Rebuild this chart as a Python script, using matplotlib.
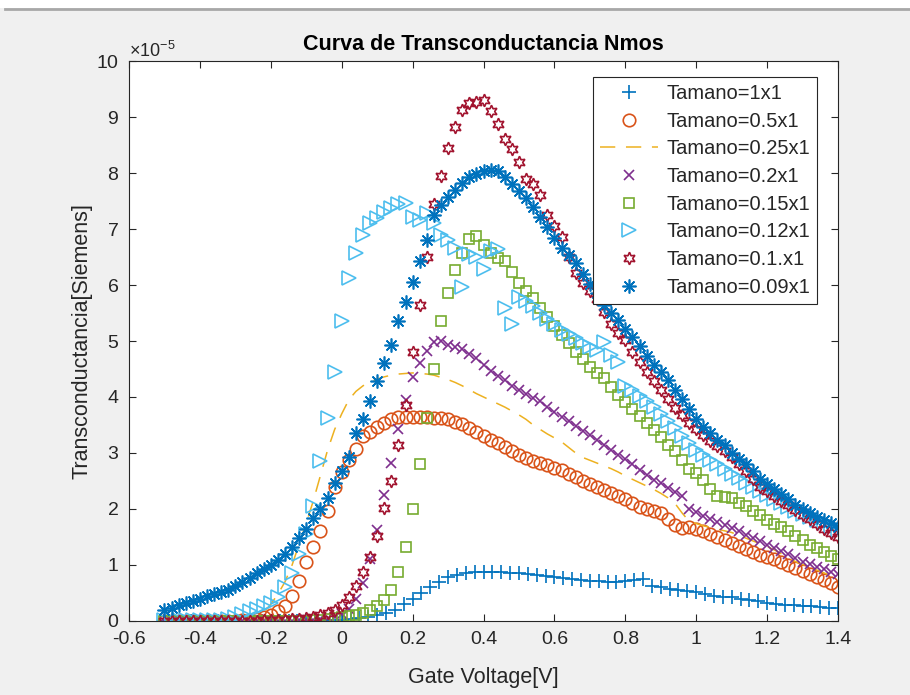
import numpy as np
import matplotlib
matplotlib.use('Agg')
import matplotlib.pyplot as plt
from matplotlib.ticker import ScalarFormatter, MultipleLocator
from matplotlib.lines import Line2D

plt.rcParams['font.family'] = ['Liberation Sans', 'DejaVu Sans']
plt.rcParams['mathtext.fontset'] = 'custom'
plt.rcParams['mathtext.rm'] = 'Liberation Sans'
plt.rcParams['mathtext.it'] = 'Liberation Sans:italic'

# gate voltage sweeps [V]
vg = np.round(np.arange(-0.5, 1.4001, 0.02), 3)        # 96 points
vg_1x1 = np.round(np.arange(-0.5, 1.4001, 0.025), 3)   # 77 points

# transconductance, in units of 1e-5 S
gm_1x1 = [0, 0, 0, 0, 0, 0, 0, 0,
          0, 0, 0, 0, 0, 0, 0, 0,
          0.01, 0.01, 0.01, 0.02, 0.02, 0.03, 0.05, 0.07,
          0.1, 0.14, 0.2, 0.3, 0.4, 0.5, 0.6, 0.7,
          0.78, 0.83, 0.86, 0.87, 0.88, 0.88, 0.87, 0.86,
          0.85, 0.84, 0.82, 0.8, 0.79, 0.77, 0.75, 0.73,
          0.72, 0.71, 0.7, 0.7, 0.71, 0.73, 0.75, 0.63,
          0.61, 0.58, 0.55, 0.53, 0.51, 0.48, 0.45, 0.43,
          0.42, 0.4, 0.37, 0.35, 0.33, 0.31, 0.29, 0.28,
          0.27, 0.26, 0.25, 0.24, 0.23]

gm_05x1 = [0, 0, 0, 0, 0, 0, 0, 0, 0, 0,
           0, 0.01, 0.02, 0.04, 0.07, 0.11, 0.17, 0.27, 0.45, 0.72,
           1.06, 1.32, 1.6, 1.96, 2.4, 2.66, 2.88, 3.08, 3.3, 3.38,
           3.46, 3.54, 3.6, 3.64, 3.65, 3.65, 3.65, 3.64, 3.63, 3.62,
           3.6, 3.56, 3.51, 3.45, 3.38, 3.3, 3.23, 3.17, 3.1, 3.04,
           2.97, 2.91, 2.86, 2.82, 2.78, 2.74, 2.69, 2.63, 2.57, 2.5,
           2.44, 2.39, 2.34, 2.29, 2.23, 2.17, 2.1, 2.04, 2.0, 1.96,
           1.92, 1.83, 1.72, 1.66, 1.68, 1.64, 1.6, 1.55, 1.5, 1.45,
           1.39, 1.34, 1.29, 1.24, 1.18, 1.14, 1.1, 1.05, 1.0, 0.94,
           0.89, 0.84, 0.79, 0.74, 0.68, 0.6]

gm_025x1 = [0, 0, 0, 0, 0, 0, 0, 0, 0, 0,
            0, 0.01, 0.03, 0.07, 0.15, 0.3, 0.48, 0.7, 1.0, 1.38,
            1.75, 2.15, 2.6, 3.05, 3.42, 3.7, 3.95, 4.1, 4.2, 4.27,
            4.32, 4.36, 4.39, 4.41, 4.42, 4.43, 4.42, 4.41, 4.39, 4.35,
            4.31, 4.26, 4.2, 4.13, 4.06, 4.0, 3.94, 3.88, 3.82, 3.75,
            3.68, 3.6, 3.5, 3.42, 3.34, 3.27, 3.2, 3.1, 3.0, 2.92,
            2.87, 2.82, 2.77, 2.72, 2.66, 2.59, 2.53, 2.47, 2.41, 2.35,
            2.28, 2.2, 2.1, 1.93, 1.78, 1.74, 1.7, 1.67, 1.64, 1.61,
            1.58, 1.53, 1.48, 1.43, 1.38, 1.33, 1.27, 1.2, 1.13, 1.06,
            1.01, 0.96, 0.91, 0.86, 0.81, 0.76]

gm_02x1 = [0, 0, 0, 0, 0, 0, 0, 0, 0, 0,
           0, 0, 0, 0, 0, 0, 0, 0, 0, 0.01,
           0.01, 0.02, 0.03, 0.05, 0.08, 0.12, 0.22, 0.4, 0.68, 1.1,
           1.62, 2.25, 2.82, 3.42, 3.95, 4.35, 4.6, 4.82, 4.98, 5.0,
           4.93, 4.9, 4.85, 4.77, 4.7, 4.58, 4.47, 4.38, 4.3, 4.2,
           4.13, 4.06, 3.98, 3.92, 3.83, 3.74, 3.65, 3.57, 3.48, 3.4,
           3.32, 3.23, 3.14, 3.06, 2.97, 2.89, 2.81, 2.7, 2.6, 2.52,
           2.46, 2.38, 2.3, 2.23, 2.0, 1.94, 1.87, 1.82, 1.77, 1.71,
           1.66, 1.6, 1.54, 1.48, 1.42, 1.36, 1.3, 1.25, 1.19, 1.12,
           1.06, 1.01, 0.96, 0.92, 0.87, 0.84]

gm_015x1 = [0, 0, 0, 0, 0, 0, 0, 0, 0, 0,
            0, 0, 0, 0, 0, 0, 0, 0, 0, 0,
            0, 0.01, 0.02, 0.03, 0.05, 0.07, 0.09, 0.11, 0.14, 0.19,
            0.27, 0.37, 0.55, 0.88, 1.32, 2.0, 2.8, 3.62, 4.5, 5.35,
            5.85, 6.27, 6.58, 6.82, 6.88, 6.72, 6.57, 6.49, 6.42, 6.24,
            6.04, 5.9, 5.77, 5.59, 5.42, 5.27, 5.11, 4.96, 4.8, 4.68,
            4.54, 4.43, 4.34, 4.18, 4.04, 3.91, 3.78, 3.66, 3.53, 3.41,
            3.28, 3.15, 3.03, 2.88, 2.72, 2.64, 2.52, 2.36, 2.24, 2.22,
            2.19, 2.11, 2.05, 1.96, 1.89, 1.8, 1.73, 1.67, 1.6, 1.52,
            1.44, 1.36, 1.3, 1.24, 1.16, 1.1]

gm_012x1 = [0.01, 0.01, 0.01, 0.01, 0.01, 0.01, 0.01, 0.01, 0.02, 0.04,
            0.07, 0.12, 0.18, 0.22, 0.26, 0.33, 0.42, 0.6, 0.85, 1.2,
            1.55, 2.05, 2.86, 3.63, 4.45, 5.36, 6.13, 6.57, 6.89, 7.1,
            7.2, 7.3, 7.38, 7.44, 7.46, 7.22, 7.16, 7.28, 7.1, 6.9,
            6.8, 6.66, 5.97, 6.55, 6.5, 6.28, 6.6, 6.65, 5.59, 5.3,
            5.79, 5.72, 5.62, 5.5, 5.4, 5.3, 5.2, 5.12, 5.05, 4.97,
            4.9, 4.84, 4.98, 4.75, 4.62, 4.2, 4.12, 4.02, 3.92, 3.82,
            3.7, 3.58, 3.44, 3.31, 3.18, 3.06, 2.97, 2.88, 2.8, 2.72,
            2.63, 2.55, 2.47, 2.39, 2.32, 2.25, 2.18, 2.1, 2.03, 1.97,
            1.91, 1.86, 1.81, 1.75, 1.68, 1.6]

gm_01x1 = [0, 0, 0, 0, 0, 0, 0, 0, 0, 0,
           0, 0, 0, 0, 0.01, 0.01, 0.01, 0.02, 0.03, 0.04,
           0.06, 0.08, 0.11, 0.15, 0.2, 0.28, 0.42, 0.62, 0.87, 1.15,
           1.52, 2.02, 2.5, 3.15, 3.85, 4.8, 5.65, 6.5, 7.45, 7.95,
           8.45, 8.82, 9.12, 9.25, 9.27, 9.3, 9.1, 8.88, 8.6, 8.42,
           8.2, 7.9, 7.8, 7.6, 7.25, 7.05, 6.85, 6.5, 6.22, 6.04,
           5.9, 5.75, 5.52, 5.3, 5.15, 5.02, 4.8, 4.62, 4.45, 4.29,
           4.12, 3.96, 3.81, 3.67, 3.53, 3.42, 3.32, 3.22, 3.12, 3.03,
           2.92, 2.8, 2.68, 2.53, 2.4, 2.32, 2.24, 2.15, 2.07, 1.98,
           1.9, 1.82, 1.73, 1.65, 1.57, 1.5]

gm_009x1 = [0.2, 0.24, 0.28, 0.32, 0.36, 0.4, 0.44, 0.48, 0.52, 0.56,
            0.62, 0.7, 0.77, 0.85, 0.92, 1.0, 1.09, 1.2, 1.32, 1.48,
            1.65, 1.84, 2.0, 2.2, 2.47, 2.68, 2.92, 3.35, 3.6, 3.93,
            4.28, 4.6, 4.92, 5.35, 5.7, 6.05, 6.42, 6.8, 7.25, 7.42,
            7.58, 7.7, 7.83, 7.92, 7.98, 8.03, 8.05, 8.03, 7.92, 7.8,
            7.67, 7.55, 7.4, 7.22, 7.03, 6.84, 6.66, 6.53, 6.4, 6.2,
            6.02, 5.85, 5.65, 5.5, 5.37, 5.22, 5.08, 4.91, 4.74, 4.58,
            4.44, 4.3, 4.13, 3.97, 3.78, 3.6, 3.46, 3.35, 3.23, 3.14,
            3.0, 2.9, 2.8, 2.68, 2.54, 2.45, 2.35, 2.26, 2.17, 2.08,
            2.0, 1.93, 1.86, 1.8, 1.75, 1.68]

labels = ['Tamano=1x1', 'Tamano=0.5x1', 'Tamano=0.25x1', 'Tamano=0.2x1',
          'Tamano=0.15x1', 'Tamano=0.12x1', 'Tamano=0.1.x1', 'Tamano=0.09x1']

scale = 1e-5
mew = 1.2

fig = plt.figure(figsize=(9.1, 6.95), dpi=100, facecolor='#f0f0f0')
ax = fig.add_axes([0.1418, 0.1065, 0.7791, 0.8057])

ax.plot(vg_1x1, np.array(gm_1x1) * scale, ls='none', marker='+', ms=10,
        mew=mew, color='#0072BD', label=labels[0])
ax.plot(vg, np.array(gm_05x1) * scale, ls='none', marker='o', ms=9,
        mew=mew, mfc='none', color='#D95319', label=labels[1])
ax.plot(vg, np.array(gm_025x1) * scale, ls='--', lw=1.1, dashes=(10, 7),
        color='#EDB120', label=labels[2])
ax.plot(vg, np.array(gm_02x1) * scale, ls='none', marker='x', ms=7,
        mew=mew, color='#7E2F8E', label=labels[3])
ax.plot(vg, np.array(gm_015x1) * scale, ls='none', marker='s', ms=7.5,
        mew=mew, mfc='none', color='#77AC30', label=labels[4])
ax.plot(vg, np.array(gm_012x1) * scale, ls='none', marker='>', ms=9.5,
        mew=mew, mfc='none', color='#4DBEEE', label=labels[5])
ax.plot(vg, np.array(gm_01x1) * scale, ls='none', marker=(6, 1, 0), ms=9,
        mew=mew, mfc='none', color='#A2142F', label=labels[6])
ax.plot(vg, np.array(gm_009x1) * scale, ls='none', marker=(8, 2, 0), ms=10,
        mew=mew, color='#0072BD', label=labels[7])

ax.set_xlim(-0.6, 1.4)
ax.set_ylim(0, 10e-5)
ax.xaxis.set_major_locator(MultipleLocator(0.2))
ax.yaxis.set_major_locator(MultipleLocator(1e-5))
fmt = ScalarFormatter(useMathText=True)
fmt.set_powerlimits((-5, -5))
ax.yaxis.set_major_formatter(fmt)
ax.xaxis.set_major_formatter(plt.FuncFormatter(lambda v, p: '%g' % round(v, 2)))

dark = '#262626'
for s in ax.spines.values():
    s.set_color(dark)
    s.set_linewidth(0.8)
ax.tick_params(direction='in', length=5, width=0.8, colors=dark,
               labelsize=14, top=True, right=True, pad=7)
ax.yaxis.get_offset_text().set_fontsize(13)
ax.yaxis.get_offset_text().set_color(dark)

ax.set_title('Curva de Transconductancia Nmos', fontsize=15.5,
             fontweight='bold', color='black', pad=8)
ax.set_xlabel('Gate Voltage[V]', fontsize=15.5, color=dark, labelpad=14)
ax.set_ylabel('Transconductancia[Siemens]', fontsize=15.5, color=dark,
              labelpad=3)

leg = ax.legend(loc='upper right', bbox_to_anchor=(0.9704, 0.9714),
                borderaxespad=0, fontsize=14.5, numpoints=1, handlelength=2.9,
                handletextpad=0.4, labelspacing=0.43, borderpad=0.35,
                fancybox=False, framealpha=1, edgecolor=dark)
leg.get_frame().set_linewidth(0.8)
for t in leg.get_texts():
    t.set_color(dark)

# window chrome at the top edge
fig.patches.append(plt.Rectangle((0, 0.988), 1, 0.012, transform=fig.transFigure,
                                 facecolor='white', edgecolor='none'))
fig.lines.append(Line2D([0.006, 1], [0.987, 0.987], transform=fig.transFigure,
                        color='#a8a8a8', lw=2))

fig.savefig('out.png', dpi=100, facecolor=fig.get_facecolor())
